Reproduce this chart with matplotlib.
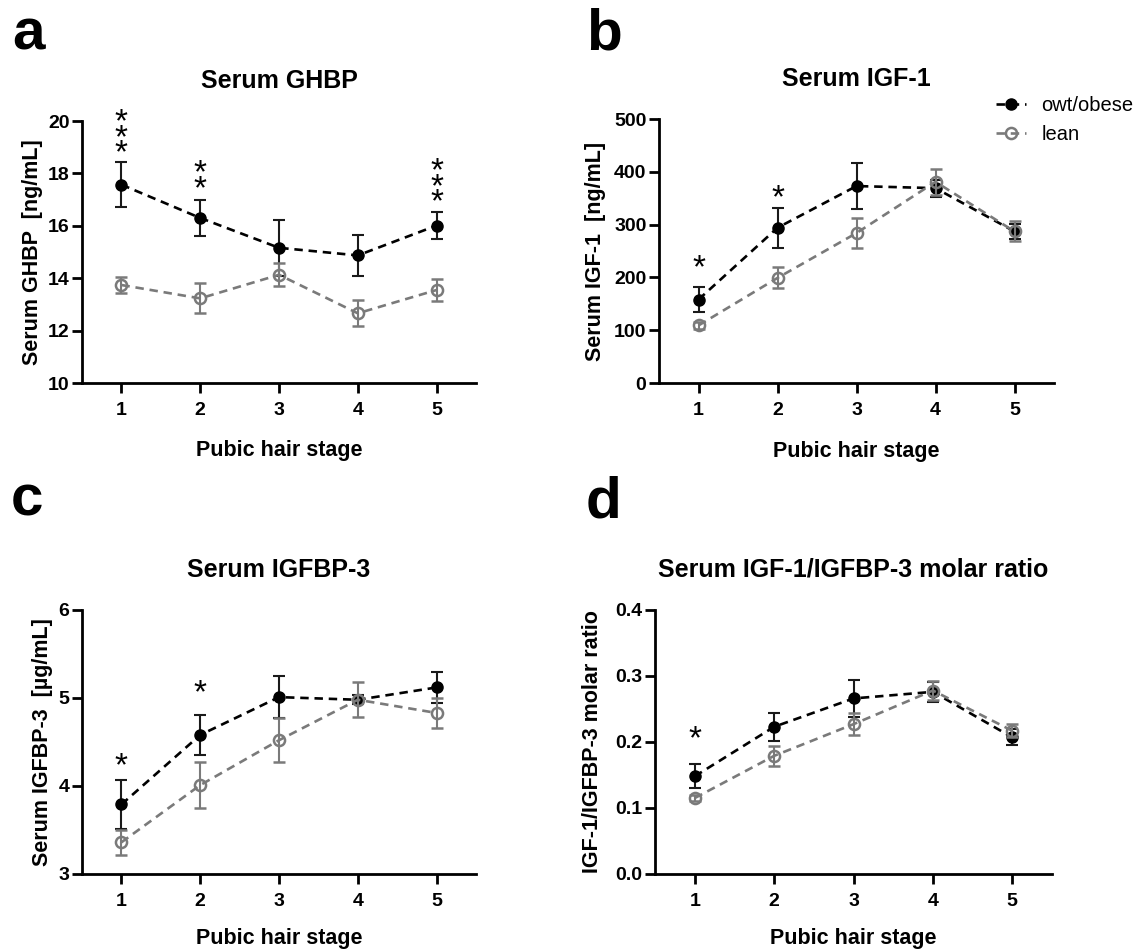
import matplotlib as mpl
import matplotlib.pyplot as plt
from matplotlib.lines import Line2D

stages = [1, 2, 3, 4, 5]

ghbp_obese = [17.57, 16.30, 15.16, 14.87, 16.01]
ghbp_obese_err = [0.85, 0.70, 1.08, 0.78, 0.53]
ghbp_lean = [13.74, 13.23, 14.13, 12.66, 13.55]
ghbp_lean_err = [0.30, 0.57, 0.44, 0.50, 0.43]
ghbp_stars = [(1, 3, 19.16), (2, 2, 17.82), (5, 3, 17.29)]

igf1_obese = [158, 294, 373, 369, 287]
igf1_obese_err = [24, 38, 44, 16, 14]
igf1_lean = [109, 199, 284, 381, 287]
igf1_lean_err = [6, 20, 28, 25, 19]
igf1_stars = [(1, 1, 237), (2, 1, 371)]

igfbp3_obese = [3.79, 4.58, 5.01, 4.98, 5.12]
igfbp3_obese_err = [0.28, 0.23, 0.24, 0.05, 0.18]
igfbp3_lean = [3.36, 4.01, 4.52, 4.98, 4.83]
igfbp3_lean_err = [0.14, 0.26, 0.25, 0.20, 0.17]
igfbp3_stars = [(1, 1, 4.35), (2, 1, 5.17)]

ratio_obese = [0.148, 0.223, 0.266, 0.276, 0.207]
ratio_obese_err = [0.018, 0.021, 0.028, 0.015, 0.012]
ratio_lean = [0.115, 0.179, 0.227, 0.278, 0.217]
ratio_lean_err = [0.005, 0.015, 0.017, 0.015, 0.010]
ratio_stars = [(1, 1, 0.221)]

W, H = 1141, 950
BLACK = "#000000"
GREY = "#7a7a7a"
DASH = (0, (3.2, 2.2))
STAR_FS = 24


def px_rect(l, t, r, b):
    return [l / W, 1 - b / H, (r - l) / W, (b - t) / H]


def draw_panel(ax, obese, obese_err, lean, lean_err, stars, ylim, yticks, fmt,
               title, ylabel, ylab_x, xlab_y):
    ax.errorbar(stages, obese, yerr=obese_err, color=BLACK, ecolor="#1a1a1a", ls=DASH, lw=1.9,
                marker="o", ms=8, mfc=BLACK, mec=BLACK, elinewidth=1.5, capsize=4.5, capthick=1.5,
                zorder=3)
    ax.errorbar(stages, lean, yerr=lean_err, color=GREY, ecolor=GREY, ls=DASH, lw=1.9,
                marker="o", ms=8, mfc="none", mec=GREY, mew=1.8, elinewidth=1.5, capsize=4.5,
                capthick=1.5, zorder=4)
    # stacked asterisks as one text, lowest star centred on y
    for x, n, y in stars:
        ax.annotate("\n".join(["*"] * n), (x, y), xytext=(0, -0.80 * STAR_FS), textcoords="offset points",
                    ha="center", va="bottom", fontsize=STAR_FS, linespacing=0.36,
                    annotation_clip=False)

    ax.set_xlim(0.5, 5.5)
    ax.set_ylim(*ylim)
    ax.set_xticks(stages)
    ax.set_yticks(yticks)
    ax.set_yticklabels([fmt.format(t) for t in yticks])
    for lab in ax.get_xticklabels() + ax.get_yticklabels():
        lab.set_fontweight("bold")
    for s in ["top", "right"]:
        ax.spines[s].set_visible(False)
    ax.set_title(title, fontsize=18, fontweight="bold", pad=24)
    ax.set_ylabel(ylabel)
    ax.yaxis.set_label_coords(ylab_x, 0.5)
    ax.set_xlabel("Pubic hair stage")
    ax.xaxis.set_label_coords(0.5, xlab_y)


if __name__ == "__main__":
    plt.rcParams["font.family"] = ["Liberation Sans", "DejaVu Sans"]
    mpl.rc("axes", linewidth=2.0, labelsize=15.5, labelweight="bold")
    mpl.rc("xtick", labelsize=14)
    mpl.rc("ytick", labelsize=14)
    mpl.rc("xtick.major", size=7, width=2.0, pad=7)
    mpl.rc("ytick.major", size=7, width=2.0, pad=2)

    fig = plt.figure(figsize=(W / 100, H / 100), dpi=100)
    ax_a = fig.add_axes(px_rect(82, 121, 476, 383))
    ax_b = fig.add_axes(px_rect(659, 119, 1054, 383))
    ax_c = fig.add_axes(px_rect(82, 610, 476, 874))
    ax_d = fig.add_axes(px_rect(655, 610, 1052, 874))

    draw_panel(ax_a, ghbp_obese, ghbp_obese_err, ghbp_lean, ghbp_lean_err, ghbp_stars,
               (10, 20), [10, 12, 14, 16, 18, 20], "{:d}", "Serum GHBP", "Serum GHBP  [ng/mL]",
               -0.10, -0.218)
    draw_panel(ax_b, igf1_obese, igf1_obese_err, igf1_lean, igf1_lean_err, igf1_stars,
               (0, 500), [0, 100, 200, 300, 400, 500], "{:d}", "Serum IGF-1", "Serum IGF-1  [ng/mL]",
               -0.134, -0.218)
    draw_panel(ax_c, igfbp3_obese, igfbp3_obese_err, igfbp3_lean, igfbp3_lean_err, igfbp3_stars,
               (3, 6), [3, 4, 5, 6], "{:d}", "Serum IGFBP-3", "Serum IGFBP-3  [µg/mL]",
               -0.074, -0.205)
    draw_panel(ax_d, ratio_obese, ratio_obese_err, ratio_lean, ratio_lean_err, ratio_stars,
               (0, 0.4), [0.0, 0.1, 0.2, 0.3, 0.4], "{:.1f}", "Serum IGF-1/IGFBP-3 molar ratio",
               "IGF-1/IGFBP-3 molar ratio", -0.131, -0.205)

    for let, x, y in [("a", 12, 50), ("b", 586, 50), ("c", 11, 515), ("d", 586, 517)]:
        fig.text(x / W, 1 - y / H, let, fontsize=42, fontweight="bold", ha="left", va="baseline")

    handles = [Line2D([0], [0], color=BLACK, ls=DASH, lw=1.9, marker="o", ms=8, mfc=BLACK, mec=BLACK,
                      label="owt/obese"),
               Line2D([0], [0], color=GREY, ls=DASH, lw=1.9, marker="o", ms=8, mfc="none", mec=GREY,
                      mew=1.8, label="lean")]
    fig.legend(handles=handles, loc="upper left", bbox_to_anchor=(996 / W, 1 - 96 / H), frameon=False,
               fontsize=14.5, borderpad=0, borderaxespad=0, handlelength=1.5, handletextpad=0.75,
               labelspacing=0.5)

    fig.savefig("out.png", dpi=100)
